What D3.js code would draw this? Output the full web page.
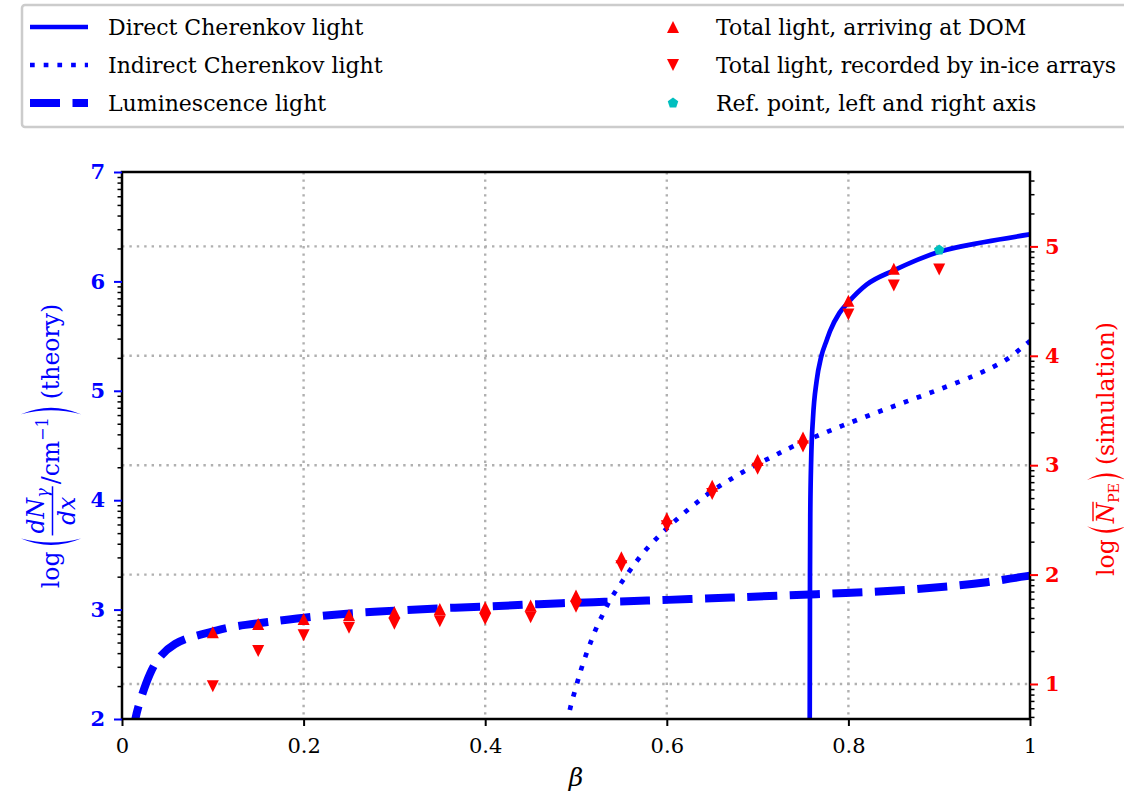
<!DOCTYPE html>
<html>
<head>
<meta charset="utf-8">
<script src="https://cdn.jsdelivr.net/npm/d3@7"></script>
<style>
  body { margin: 0; background: #fff; }
  svg { display: block; }
  text { font-family: "DejaVu Serif", serif; }
</style>
</head>
<body>
<svg id="chart" width="1124" height="800"></svg>
<script>
// ---- Theory curves: log10(dN/dx per cm) versus beta ----
const directBeta = [0.7574, 0.7577, 0.758, 0.759, 0.761, 0.765, 0.77, 0.776, 0.78, 0.79, 0.8, 0.82, 0.85, 0.9, 0.95, 1.0];
const directLog  = [1.90, 3.30, 3.85, 4.37, 4.75, 5.09, 5.31, 5.46, 5.55, 5.71, 5.81, 5.97, 6.10, 6.27, 6.36, 6.43];

const indirectBeta = [0.4905, 0.4915, 0.4945, 0.4989, 0.5030, 0.5074, 0.5129, 0.5180, 0.5239, 0.5308, 0.5374,
  0.5466, 0.5551, 0.5642, 0.5735, 0.5840, 0.5950, 0.6061, 0.6175, 0.6296, 0.6417, 0.6542, 0.6677, 0.6814,
  0.6953, 0.7089, 0.7228, 0.7364, 0.7651, 0.7933, 0.8227, 0.8513, 0.8807, 0.9100, 0.9383, 0.9523, 0.9662,
  0.9798, 0.9920, 1.0];
const indirectLog = [1.96, 2.02, 2.134, 2.259, 2.381, 2.503, 2.631, 2.743, 2.866, 2.975, 3.094,
  3.204, 3.310, 3.414, 3.515, 3.612, 3.703, 3.789, 3.874, 3.956, 4.036, 4.109, 4.178, 4.246,
  4.313, 4.367, 4.425, 4.484, 4.587, 4.681, 4.776, 4.864, 4.952, 5.044, 5.135, 5.190, 5.245,
  5.312, 5.403, 5.455];

const lumBeta = [0.012, 0.0143, 0.0198, 0.0308, 0.0419, 0.0584, 0.075, 0.1005, 0.119, 0.159, 0.207, 0.2585,
  0.2988, 0.3466, 0.398, 0.4438, 0.4824, 0.532, 0.578, 0.6256, 0.6715, 0.7173, 0.8018, 0.857, 0.912,
  0.956, 0.978, 1.0];
const lumLog = [1.85, 2.0, 2.17, 2.43, 2.585, 2.695, 2.75, 2.798, 2.844, 2.884, 2.935, 2.972,
  2.990, 3.012, 3.027, 3.045, 3.058, 3.072, 3.081, 3.097, 3.109, 3.127, 3.152, 3.175, 3.211,
  3.252, 3.284, 3.31];

// ---- Simulation: log10(mean photo-electrons), right axis ----
const simBeta = [0.1, 0.15, 0.2, 0.25, 0.3, 0.35, 0.4, 0.45, 0.5, 0.55, 0.6, 0.65, 0.7, 0.75, 0.8, 0.85];
const arrivingLog = [1.472, 1.548, 1.594, 1.630, 1.656, 1.685, 1.701, 1.717, 1.808, 2.158, 2.514, 2.813, 3.047, 3.254, 4.502, 4.796];
const recordedBeta = [0.1, 0.15, 0.2, 0.25, 0.3, 0.35, 0.4, 0.45, 0.5, 0.55, 0.6, 0.65, 0.7, 0.75, 0.8, 0.85, 0.9];
const recordedLog = [0.979, 1.301, 1.445, 1.514, 1.550, 1.574, 1.595, 1.610, 1.705, 2.076, 2.441, 2.737, 2.968, 3.172, 4.377, 4.642, 4.788];

// Reference point shared by both axes (plotted on the left scale)
const refBeta = [0.9];
const refLog = [6.287];

// ---- Axis ticks ----
const xTicks = [0, 0.2, 0.4, 0.6, 0.8, 1];
const xTickLabels = ["0", "0.2", "0.4", "0.6", "0.8", "1"];
const leftTicks = [2, 3, 4, 5, 6, 7];
const rightTicks = [1, 2, 3, 4, 5];

const BLUE = "#0000ff", RED = "#ff0000", CYAN = "#00bfbf";
const svg = d3.select("#chart");
const plot = { left: 122, right: 1030, top: 172, bottom: 719 };

const x = d3.scaleLinear().domain([0, 1]).range([plot.left, plot.right]);
const yL = d3.scaleLinear().domain([2, 7]).range([plot.bottom, plot.top]);
const yR = d3.scaleLinear().domain([0.68, 5.68]).range([plot.bottom, plot.top]);

// minor ticks at n + log10(k), k = 2..9
function logMinor(scale) {
  const [a, b] = scale.domain();
  const out = [];
  for (let n = Math.floor(a); n <= Math.ceil(b); n++)
    for (let k = 2; k <= 9; k++) {
      const v = n + Math.log10(k);
      if (v >= a && v <= b) out.push(v);
    }
  return out;
}

svg.append("defs").append("clipPath").attr("id", "plotClip")
  .append("rect").attr("x", plot.left).attr("y", plot.top)
  .attr("width", plot.right - plot.left).attr("height", plot.bottom - plot.top);

// ---- Grid ----
const grid = svg.append("g").attr("stroke", "#b0b0b0").attr("stroke-width", 2.4)
  .attr("stroke-dasharray", "2.4,5");
grid.selectAll("line.v").data(xTicks.slice(1, -1)).join("line").attr("class", "v")
  .attr("x1", d => x(d)).attr("x2", d => x(d)).attr("y1", plot.top).attr("y2", plot.bottom);
grid.selectAll("line.h").data(rightTicks).join("line").attr("class", "h")
  .attr("x1", plot.left).attr("x2", plot.right).attr("y1", d => yR(d)).attr("y2", d => yR(d));

// ---- Curves ----
const curves = svg.append("g").attr("clip-path", "url(#plotClip)").attr("fill", "none").attr("stroke", BLUE);
const zip = (a, b) => a.map((v, i) => [v, b[i]]);

curves.append("path")
  .attr("d", d3.line().x(d => x(d[0])).y(d => yL(d[1])).curve(d3.curveBasis)(zip(lumBeta, lumLog)))
  .attr("stroke-width", 8).attr("stroke-dasharray", "30,12.5");
curves.append("path")
  .attr("d", d3.line().x(d => x(d[0])).y(d => yL(d[1])).curve(d3.curveBasis)(zip(indirectBeta, indirectLog)))
  .attr("stroke-width", 4.7).attr("stroke-dasharray", "4.7,9");
curves.append("path")
  .attr("d", d3.line().x(d => x(d[0])).y(d => yL(d[1])).curve(d3.curveMonotoneX)(zip(directBeta, directLog)))
  .attr("stroke-width", 4.7);

// ---- Marker symbols ----
const triUp = { draw(c, size) { const s = Math.sqrt(size) / 2; c.moveTo(0, -s); c.lineTo(s, s); c.lineTo(-s, s); c.closePath(); } };
const triDown = { draw(c, size) { const s = Math.sqrt(size) / 2; c.moveTo(0, s); c.lineTo(s, -s); c.lineTo(-s, -s); c.closePath(); } };
const pentagon = { draw(c, size) {
  const r = Math.sqrt(size) / 2;
  for (let i = 0; i < 5; i++) {
    const a = -Math.PI / 2 + i * 2 * Math.PI / 5;
    i ? c.lineTo(r * Math.cos(a), r * Math.sin(a)) : c.moveTo(r * Math.cos(a), r * Math.sin(a));
  }
  c.closePath();
} };
const triSize = 12 * 12, pentSize = 11 * 11;

const marks = svg.append("g");
marks.selectAll("path.up").data(zip(simBeta, arrivingLog)).join("path").attr("class", "up")
  .attr("d", d3.symbol().type(triUp).size(triSize)).attr("fill", RED)
  .attr("transform", d => `translate(${x(d[0])},${yR(d[1])})`);
marks.selectAll("path.down").data(zip(recordedBeta, recordedLog)).join("path").attr("class", "down")
  .attr("d", d3.symbol().type(triDown).size(triSize)).attr("fill", RED)
  .attr("transform", d => `translate(${x(d[0])},${yR(d[1])})`);
marks.selectAll("path.ref").data(zip(refBeta, refLog)).join("path").attr("class", "ref")
  .attr("d", d3.symbol().type(pentagon).size(pentSize)).attr("fill", CYAN)
  .attr("transform", d => `translate(${x(d[0])},${yL(d[1])})`);

// ---- Frame ----
svg.append("rect").attr("x", plot.left).attr("y", plot.top)
  .attr("width", plot.right - plot.left).attr("height", plot.bottom - plot.top)
  .attr("fill", "none").attr("stroke", "#000").attr("stroke-width", 2.5);

// ---- Axes ----
function styleAxis(g, color, bold, size) {
  g.select(".domain").remove();
  g.selectAll(".tick line").attr("stroke", color).attr("stroke-width", 2);
  g.selectAll(".tick text").attr("fill", color).attr("font-size", size)
    .attr("font-weight", bold ? "bold" : "normal").attr("font-family", "DejaVu Serif, serif");
}

const xAxis = svg.append("g").attr("transform", `translate(0,${plot.bottom})`)
  .call(d3.axisBottom(x).tickValues(xTicks).tickFormat((d, i) => xTickLabels[i]).tickSize(7).tickPadding(12));
styleAxis(xAxis, "#000", false, 21);

svg.append("g").attr("transform", `translate(${plot.left},0)`)
  .call(d3.axisLeft(yL).tickValues(logMinor(yL).filter(v => !leftTicks.includes(v))).tickFormat("").tickSize(4.5))
  .call(g => { g.select(".domain").remove(); g.selectAll(".tick line").attr("stroke", "#000").attr("stroke-width", 1.5); });
const leftAxis = svg.append("g").attr("transform", `translate(${plot.left},0)`)
  .call(d3.axisLeft(yL).tickValues(leftTicks).tickFormat(d3.format("d")).tickSize(8).tickPadding(9));
styleAxis(leftAxis, BLUE, true, 21);

svg.append("g").attr("transform", `translate(${plot.right},0)`)
  .call(d3.axisRight(yR).tickValues(logMinor(yR).filter(v => !rightTicks.includes(v))).tickFormat("").tickSize(4.5))
  .call(g => { g.select(".domain").remove(); g.selectAll(".tick line").attr("stroke", "#000").attr("stroke-width", 1.5); });
const rightAxis = svg.append("g").attr("transform", `translate(${plot.right},0)`)
  .call(d3.axisRight(yR).tickValues(rightTicks).tickFormat(d3.format("d")).tickSize(8).tickPadding(7));
styleAxis(rightAxis, RED, true, 21);

// ---- Axis titles ----
svg.append("text").attr("x", (plot.left + plot.right) / 2).attr("y", 786)
  .attr("text-anchor", "middle").attr("font-size", 25).attr("font-style", "italic").text("β");

function bigParen(g, x0, top, bot, side, color) {
  const mid = (top + bot) / 2;
  const d = side === "left"
    ? `M${x0 + 10},${top} Q${x0 - 3},${mid} ${x0 + 10},${bot} Q${x0 + 2},${mid} ${x0 + 10},${top} Z`
    : `M${x0 + 1},${top} Q${x0 + 14},${mid} ${x0 + 1},${bot} Q${x0 + 9},${mid} ${x0 + 1},${top} Z`;
  g.append("path").attr("d", d).attr("fill", color);
}

// left title: log( dN_γ/dx /cm^-1 ) (theory)
(function () {
  const g = svg.append("g").attr("fill", BLUE).attr("font-size", 23.5);
  let cx = 0;
  const t1 = g.append("text").attr("x", cx).attr("y", 0).text("log");
  cx += t1.node().getComputedTextLength() + 3;
  bigParen(g, cx, -38, 22, "left", BLUE); cx += 13;
  const num = g.append("text").attr("y", -15).attr("font-style", "italic");
  num.append("tspan").text("dN");
  num.append("tspan").attr("font-size", 16).attr("dy", 4).text("γ");
  const den = g.append("text").attr("y", 16).attr("font-style", "italic").text("dx");
  const wn = num.node().getComputedTextLength(), wd = den.node().getComputedTextLength();
  const fw = Math.max(wn, wd) + 4;
  num.attr("x", cx + (fw - wn) / 2);
  den.attr("x", cx + (fw - wd) / 2);
  g.append("line").attr("x1", cx).attr("x2", cx + fw).attr("y1", -6.5).attr("y2", -6.5)
    .attr("stroke", BLUE).attr("stroke-width", 1.5);
  cx += fw + 2;
  const unit = g.append("text").attr("x", cx).attr("y", 0);
  unit.append("tspan").text("/cm");
  unit.append("tspan").attr("font-size", 16).attr("dy", -11).text("−1");
  cx += unit.node().getComputedTextLength() + 2;
  bigParen(g, cx, -38, 22, "right", BLUE); cx += 16;
  const th = g.append("text").attr("x", cx).attr("y", 0).text("(theory)");
  cx += th.node().getComputedTextLength();
  g.attr("transform", `translate(59,${446 + cx / 2}) rotate(-90)`);
})();

// right title: log( N̄_PE ) (simulation)
(function () {
  const g = svg.append("g").attr("fill", RED).attr("font-size", 23.5);
  let cx = 0;
  const t1 = g.append("text").attr("x", cx).attr("y", 0).text("log");
  cx += t1.node().getComputedTextLength() + 3;
  bigParen(g, cx, -27, 12, "left", RED); cx += 13;
  const n = g.append("text").attr("x", cx).attr("y", 0).attr("font-style", "italic").text("N");
  const wN = n.node().getComputedTextLength();
  g.append("line").attr("x1", cx + 2).attr("x2", cx + wN + 1).attr("y1", -21).attr("y2", -21)
    .attr("stroke", RED).attr("stroke-width", 1.4);
  cx += wN;
  const pe = g.append("text").attr("x", cx).attr("y", 5).attr("font-size", 14).text("PE");
  cx += pe.node().getComputedTextLength() + 2;
  bigParen(g, cx, -27, 12, "right", RED); cx += 16;
  const sim = g.append("text").attr("x", cx).attr("y", 0).text("(simulation)");
  cx += sim.node().getComputedTextLength();
  g.attr("transform", `translate(1114,${449 + cx / 2}) rotate(-90)`);
})();

// ---- Legend ----
const legendLines = [
  { label: "Direct Cherenkov light", width: 4.7, dash: null },
  { label: "Indirect Cherenkov light", width: 4.7, dash: "4.7,9" },
  { label: "Luminescence light", width: 8, dash: "30,12.5" }
];
const legendMarks = [
  { label: "Total light, arriving at DOM", type: triUp, size: triSize, color: RED },
  { label: "Total light, recorded by in-ice arrays", type: triDown, size: triSize, color: RED },
  { label: "Ref. point, left and right axis", type: pentagon, size: pentSize, color: CYAN }
];
const rowY = [27, 65, 103];
const legend = svg.append("g");
legend.append("rect").attr("x", 22).attr("y", 5).attr("width", 1130).attr("height", 122)
  .attr("rx", 3).attr("fill", "#fff").attr("stroke", "#cccccc").attr("stroke-width", 2.5);
legendLines.forEach((d, i) => {
  legend.append("line").attr("x1", 30).attr("x2", 88).attr("y1", rowY[i]).attr("y2", rowY[i])
    .attr("stroke", BLUE).attr("stroke-width", d.width).attr("stroke-dasharray", d.dash);
  legend.append("text").attr("x", 108).attr("y", rowY[i]).attr("dy", "0.36em")
    .attr("font-size", 22).text(d.label);
});
legendMarks.forEach((d, i) => {
  legend.append("path").attr("d", d3.symbol().type(d.type).size(d.size))
    .attr("transform", `translate(673,${rowY[i]})`).attr("fill", d.color);
  legend.append("text").attr("x", 716).attr("y", rowY[i]).attr("dy", "0.36em")
    .attr("font-size", 22).attr("textLength", i === 1 ? 400 : null).text(d.label);
});
</script>
</body>
</html>
